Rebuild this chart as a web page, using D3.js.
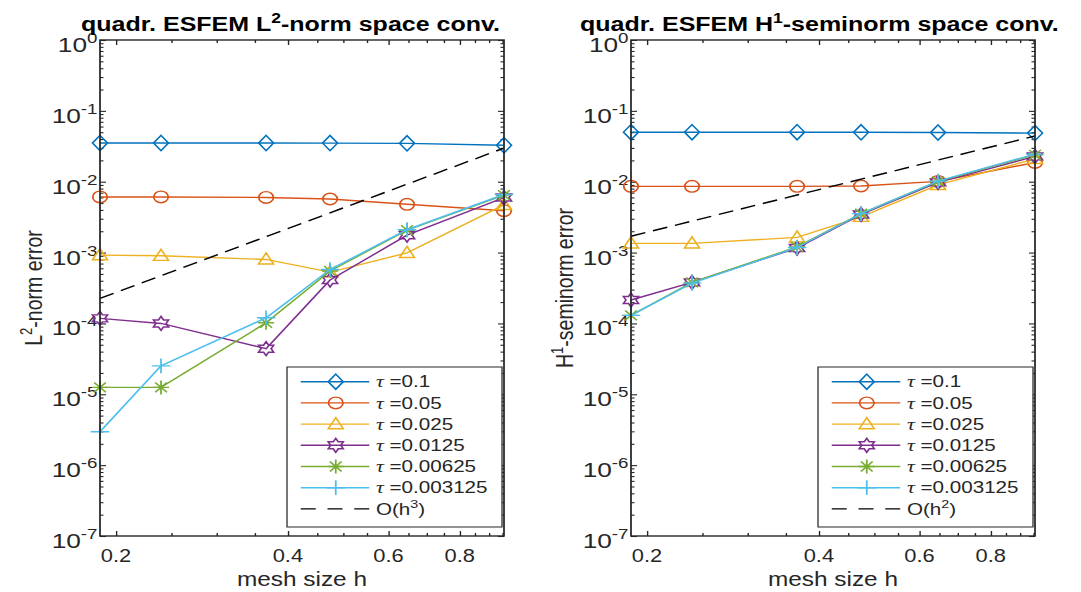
<!DOCTYPE html>
<html>
<head>
<meta charset="utf-8">
<script src="https://cdn.jsdelivr.net/npm/d3@7"></script>
<style>
  body { margin: 0; background: #fff; }
  svg { display: block; }
  text { font-family: "Liberation Sans", Arial, sans-serif; fill: #262626; }
</style>
</head>
<body>
<div id="chart"></div>
<script>
// mesh sizes h (x values, shared by both panels)
var meshSizes = [0.1875, 0.2398, 0.3663, 0.4741, 0.6466, 0.956];
var tauLabels = ["0.1", "0.05", "0.025", "0.0125", "0.00625", "0.003125"];

// L2-norm errors, one array per tau
var l2Tau1 = [0.0352, 0.0352, 0.0352, 0.0351, 0.0348, 0.0327];
var l2Tau2 = [0.0061, 0.0061, 0.0060, 0.0057, 0.0048, 0.0039];
var l2Tau3 = [0.00092, 0.00090, 0.00080, 0.00053, 0.00099, 0.0047];
var l2Tau4 = [1.18e-4, 1.0e-4, 4.4e-5, 4.1e-4, 1.76e-3, 5.98e-3];
var l2Tau5 = [1.25e-5, 1.25e-5, 1.02e-4, 5.5e-4, 2.07e-3, 6.46e-3];
var l2Tau6 = [2.96e-6, 2.52e-5, 1.2e-4, 5.76e-4, 2.1e-3, 6.6e-3];
var l2Ref = [2.25e-4, 4.71e-4, 1.68e-3, 3.64e-3, 9.23e-3, 0.0298];

// H1-seminorm errors, one array per tau
var h1Tau1 = [0.050, 0.050, 0.050, 0.0498, 0.0495, 0.0485];
var h1Tau2 = [0.0086, 0.0086, 0.0086, 0.0087, 0.0101, 0.0187];
var h1Tau3 = [1.35e-3, 1.35e-3, 1.64e-3, 3.2e-3, 9.0e-3, 0.021];
var h1Tau4 = [2.14e-4, 3.8e-4, 1.16e-3, 3.45e-3, 9.8e-3, 0.0228];
var h1Tau5 = [1.3e-4, 3.8e-4, 1.2e-3, 3.55e-3, 0.0101, 0.024];
var h1Tau6 = [1.3e-4, 3.7e-4, 1.18e-3, 3.55e-3, 0.0102, 0.0245];
var h1Ref = [1.7e-3, 2.78e-3, 6.49e-3, 0.01087, 0.0202, 0.0442];

var xTickValues = [0.2, 0.4, 0.6, 0.8];
var xTickLabels = ["0.2", "0.4", "0.6", "0.8"];
var xMinorValues = [0.25, 0.3, 0.35, 0.45, 0.5, 0.55, 0.65, 0.7, 0.75, 0.85, 0.9, 0.95];
var yExponents = [-7, -6, -5, -4, -3, -2, -1, 0];

var colors = ["#0072BD", "#D95319", "#EDB120", "#7E2F8E", "#77AC30", "#4DBEEE"];
var markers = ["diamond", "circle", "triangle", "hexagram", "asterisk", "plus"];

// the picture is stretched horizontally, so draw in a narrower box and stretch it
var sx = 1.25;
var W = 1081 / sx, H = 592;
var plotTop = 40, plotBottom = 536, plotW = 323.2;
var axisColor = "#262626";

var svg = d3
  .select("#chart")
  .append("svg")
  .attr("width", 1081)
  .attr("height", 592)
  .attr("viewBox", "0 0 " + W + " " + H)
  .attr("preserveAspectRatio", "none");

function hexagramPath(r) {
  var ri = r / Math.sqrt(3), p = [];
  for (var i = 0; i < 12; i++) {
    var a = -Math.PI / 2 + i * Math.PI / 6;
    var rr = i % 2 === 0 ? r : ri;
    p.push([rr * Math.cos(a), rr * Math.sin(a)]);
  }
  return "M" + p.map(function(q) { return q[0].toFixed(2) + "," + q[1].toFixed(2); }).join("L") + "Z";
}

var circ = d3.path();
circ.arc(0, 0, 5.8, 0, 2 * Math.PI);
circ.closePath();

var markerPaths = {
  diamond: "M0,-7.6L6,0L0,7.6L-6,0Z",
  circle: circ.toString(),
  triangle: "M0,-6.5L6,4.6L-6,4.6Z",
  hexagram: hexagramPath(7),
  asterisk: "M-6.4,0H6.4M0,-7V7M-4.7,-4.9L4.7,4.9M-4.7,4.9L4.7,-4.9",
  plus: "M-7.4,0H7.4M0,-7.4V7.4"
};

function drawMarker(g, kind, color, cx, cy) {
  g.append("path")
    .attr("d", markerPaths[kind])
    .attr("transform", "translate(" + cx + "," + cy + ")")
    .attr("fill", "none")
    .attr("stroke", color)
    .attr("stroke-width", 1.4);
}

function drawPanel(cfg) {
  var left = cfg.left, right = cfg.left + plotW;
  var x = d3.scaleLog().domain(d3.extent(meshSizes)).range([left, right]);
  var y = d3.scaleLog().domain([1e-7, 1]).range([plotBottom, plotTop]);
  var g = svg.append("g");

  var yMinor = [];
  yExponents.slice(0, -1).forEach(function(e) {
    for (var k = 2; k <= 9; k++) yMinor.push(k * Math.pow(10, e));
  });
  var yMajor = yExponents.map(function(e) { return Math.pow(10, e); });

  // ticks, pointing inwards, on all four sides
  var axes = [
    [d3.axisBottom(x).tickValues(xTickValues).tickSizeInner(-5), "translate(0," + plotBottom + ")"],
    [d3.axisBottom(x).tickValues(xMinorValues).tickSizeInner(-3), "translate(0," + plotBottom + ")"],
    [d3.axisTop(x).tickValues(xTickValues).tickSizeInner(-5), "translate(0," + plotTop + ")"],
    [d3.axisTop(x).tickValues(xMinorValues).tickSizeInner(-3), "translate(0," + plotTop + ")"],
    [d3.axisLeft(y).tickValues(yMajor).tickSizeInner(-4.8), "translate(" + left + ",0)"],
    [d3.axisLeft(y).tickValues(yMinor).tickSizeInner(-2.8), "translate(" + left + ",0)"],
    [d3.axisRight(y).tickValues(yMajor).tickSizeInner(-4.8), "translate(" + right + ",0)"],
    [d3.axisRight(y).tickValues(yMinor).tickSizeInner(-2.8), "translate(" + right + ",0)"]
  ];
  axes.forEach(function(a) {
    var ax = g.append("g")
      .attr("transform", a[1])
      .attr("color", axisColor)
      .call(a[0].tickSizeOuter(0).tickFormat(""));
    ax.select(".domain").remove();
    ax.selectAll("line").attr("stroke-width", 1.1);
  });

  // x tick labels
  g.selectAll(".xlab")
    .data(xTickValues)
    .enter()
    .append("text")
    .attr("x", function(d) { return x(d); })
    .attr("y", 562)
    .attr("text-anchor", "middle")
    .style("font-size", "17.5px")
    .text(function(d, i) { return xTickLabels[i]; });

  // y tick labels 10^e
  var yl = g.selectAll(".ylab")
    .data(yExponents)
    .enter()
    .append("text")
    .attr("x", left - 2)
    .attr("y", function(e) { return y(Math.pow(10, e)) + 12; })
    .attr("text-anchor", "end");
  yl.append("tspan").style("font-size", "21px").text("10");
  yl.append("tspan").style("font-size", "15px").attr("dy", -9).text(function(e) { return e; });

  // data lines
  var line = d3.line()
    .x(function(d, i) { return x(meshSizes[i]); })
    .y(function(d) { return y(d); });

  cfg.series.forEach(function(s, k) {
    g.append("path")
      .datum(s)
      .attr("d", line)
      .attr("fill", "none")
      .attr("stroke", colors[k])
      .attr("stroke-width", 1.4);
    s.forEach(function(v, i) {
      drawMarker(g, markers[k], colors[k], x(meshSizes[i]), y(v));
    });
  });

  g.append("path")
    .datum(cfg.ref)
    .attr("d", line)
    .attr("fill", "none")
    .attr("stroke", "#000")
    .attr("stroke-width", 1.4)
    .attr("stroke-dasharray", "12,6.4");

  // axes box
  g.append("rect")
    .attr("x", left)
    .attr("y", plotTop)
    .attr("width", plotW)
    .attr("height", plotBottom - plotTop)
    .attr("fill", "none")
    .attr("stroke", axisColor)
    .attr("stroke-width", 1.4);

  // title
  var t = g.append("text")
    .attr("x", cfg.titleX)
    .attr("y", 31)
    .attr("text-anchor", "middle")
    .style("font-size", "20px")
    .style("font-weight", "bold")
    .style("fill", "#000");
  t.append("tspan").text(cfg.titleA);
  t.append("tspan").style("font-size", "14px").attr("dy", -8).text(cfg.titleSup);
  t.append("tspan").attr("dy", 8).text(cfg.titleB);

  // y label
  var yt = g.append("text")
    .attr("transform", "translate(" + (left - 46.5) + "," + ((plotTop + plotBottom) / 2) + ") rotate(-90)")
    .attr("text-anchor", "middle")
    .style("font-size", "19.5px");
  yt.append("tspan").text(cfg.yLabelA);
  yt.append("tspan").style("font-size", "13px").attr("dy", -8).text(cfg.yLabelSup);
  yt.append("tspan").attr("dy", 8).text(cfg.yLabelB);

  // x label
  g.append("text")
    .attr("x", (left + right) / 2)
    .attr("y", 586)
    .attr("text-anchor", "middle")
    .style("font-size", "19.5px")
    .text("mesh size h");

  // legend
  var lx = left + 149.6, lw = 172, ly = 367, lh = 160;
  var lg = g.append("g");
  lg.append("rect")
    .attr("x", lx).attr("y", ly).attr("width", lw).attr("height", lh)
    .attr("fill", "#fff").attr("stroke", axisColor).attr("stroke-width", 1);
  var rowY = function(i) { return 381.7 + i * 21.2; };
  tauLabels.forEach(function(lab, k) {
    var yy = rowY(k);
    lg.append("line")
      .attr("x1", lx + 11).attr("x2", lx + 65.8).attr("y1", yy).attr("y2", yy)
      .attr("stroke", colors[k]).attr("stroke-width", 1.4);
    drawMarker(lg, markers[k], colors[k], lx + 39, yy);
    var tx = lg.append("text").attr("x", lx + 71.2).attr("y", yy + 5.8).style("font-size", "16.5px");
    tx.append("tspan").style("font-family", "'Liberation Serif', serif").style("font-style", "italic").style("font-size", "17.5px").text("\u03c4");
    tx.append("tspan").text(" =" + lab);
  });
  var yr = rowY(6);
  lg.append("line")
    .attr("x1", lx + 11).attr("x2", lx + 65.8).attr("y1", yr).attr("y2", yr)
    .attr("stroke", "#000").attr("stroke-width", 1.4).attr("stroke-dasharray", "12,9.4");
  var rt = lg.append("text").attr("x", lx + 71.2).attr("y", yr + 5.8).style("font-size", "16.5px");
  rt.append("tspan").text("O(h");
  rt.append("tspan").style("font-size", "11.5px").attr("dy", -7).text(cfg.refPow);
  rt.append("tspan").attr("dy", 7).text(")");
}

drawPanel({
  left: 80,
  titleX: 232.4,
  titleA: "quadr. ESFEM L",
  titleSup: "2",
  titleB: "-norm space conv.",
  yLabelA: "L",
  yLabelSup: "2",
  yLabelB: "-norm error",
  series: [l2Tau1, l2Tau2, l2Tau3, l2Tau4, l2Tau5, l2Tau6],
  ref: l2Ref,
  refPow: "3"
});

drawPanel({
  left: 504.8,
  titleX: 655.5,
  titleA: "quadr. ESFEM H",
  titleSup: "1",
  titleB: "-seminorm space conv.",
  yLabelA: "H",
  yLabelSup: "1",
  yLabelB: "-seminorm error",
  series: [h1Tau1, h1Tau2, h1Tau3, h1Tau4, h1Tau5, h1Tau6],
  ref: h1Ref,
  refPow: "2"
});
</script>
</body>
</html>
